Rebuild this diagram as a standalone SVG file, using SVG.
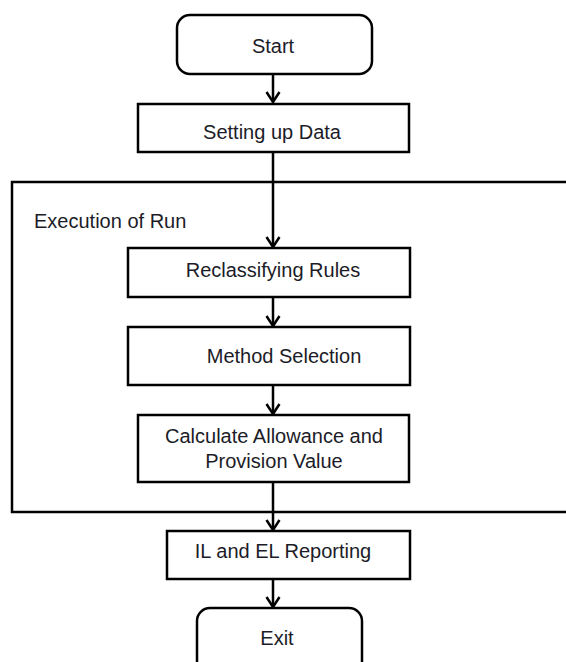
<svg xmlns="http://www.w3.org/2000/svg" width="566" height="662" viewBox="0 0 566 662">
<defs>
<style>
.box{fill:#fff;stroke:#000;stroke-width:2.5}
.frame{fill:none;stroke:#000;stroke-width:2.5}
.t{font-family:"Liberation Sans",Arial,sans-serif;font-size:20px;fill:#1c1c28}
.c{text-anchor:middle}
.ln{stroke:#000;stroke-width:2.5;fill:none}
</style>
<marker id="ah" viewBox="0 0 14 16" refX="12" refY="8" markerWidth="14" markerHeight="16" markerUnits="userSpaceOnUse" orient="auto">
<path d="M2,1.5 L12,8 L2,14.5" fill="none" stroke="#000" stroke-width="2.5"/>
</marker>
</defs>
<rect width="566" height="662" fill="#fff"/>
<g id="container">
<rect class="frame" x="12" y="182" width="570" height="330"/>
<text class="t" x="34" y="228">Execution of Run</text>
</g>
<g id="connectors">
<line class="ln" x1="273" y1="74" x2="273" y2="102" marker-end="url(#ah)"/>
<line class="ln" x1="273" y1="152" x2="273" y2="247" marker-end="url(#ah)"/>
<line class="ln" x1="273" y1="297" x2="273" y2="326" marker-end="url(#ah)"/>
<line class="ln" x1="273" y1="385" x2="273" y2="414" marker-end="url(#ah)"/>
<line class="ln" x1="273" y1="482" x2="273" y2="530" marker-end="url(#ah)"/>
<line class="ln" x1="273" y1="579" x2="273" y2="607" marker-end="url(#ah)"/>
</g>
<g id="start">
<rect class="box" x="177" y="15" width="195" height="59" rx="13"/>
<text class="t c" x="273" y="53">Start</text>
</g>
<g id="setup">
<rect class="box" x="138" y="104" width="271" height="48"/>
<text class="t c" x="272" y="139">Setting up Data</text>
</g>
<g id="reclassify">
<rect class="box" x="128" y="248" width="282" height="49"/>
<text class="t c" x="273" y="277">Reclassifying Rules</text>
</g>
<g id="method">
<rect class="box" x="128" y="327" width="282" height="58"/>
<text class="t c" x="284" y="363">Method Selection</text>
</g>
<g id="calculate">
<rect class="box" x="138" y="415" width="271" height="67"/>
<text class="t c" x="274" y="443">Calculate Allowance and</text>
<text class="t c" x="274" y="468">Provision Value</text>
</g>
<g id="reporting">
<rect class="box" x="167" y="531" width="243" height="48"/>
<text class="t c" x="283" y="558">IL and EL Reporting</text>
</g>
<g id="exit">
<rect class="box" x="197" y="608" width="165" height="66" rx="13"/>
<text class="t c" x="277" y="645">Exit</text>
</g>
</svg>
